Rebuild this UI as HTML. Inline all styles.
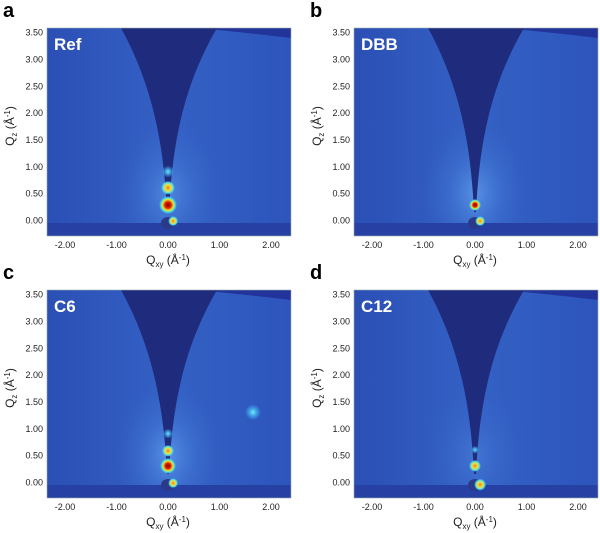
<!DOCTYPE html>
<html><head><meta charset="utf-8">
<style>
html,body{margin:0;padding:0;background:#fff;}
svg{display:block;font-family:"Liberation Sans",sans-serif;}
</style></head>
<body>
<svg id="fig" width="600" height="533" viewBox="0 0 600 533" xmlns="http://www.w3.org/2000/svg">
<defs>
  <radialGradient id="glow" cx="0.5" cy="0.5" r="0.5">
    <stop offset="0" stop-color="#6fb0f8" stop-opacity="0.6"/>
    <stop offset="0.5" stop-color="#5090e8" stop-opacity="0.25"/>
    <stop offset="1" stop-color="#3b6fd0" stop-opacity="0"/>
  </radialGradient>
  <linearGradient id="bg" x1="0" y1="0" x2="1" y2="0">
    <stop offset="0" stop-color="#2b4fb5"/>
    <stop offset="0.5" stop-color="#3461c5"/>
    <stop offset="1" stop-color="#2d55bb"/>
  </linearGradient>
  <radialGradient id="hot" cx="0.5" cy="0.5" r="0.5">
    <stop offset="0" stop-color="#8a0000"/>
    <stop offset="0.35" stop-color="#e02000"/>
    <stop offset="0.6" stop-color="#f0e030"/>
    <stop offset="0.8" stop-color="#40e0e0"/>
    <stop offset="1" stop-color="#40c0ff" stop-opacity="0"/>
  </radialGradient>
  <radialGradient id="warm" cx="0.5" cy="0.5" r="0.5">
    <stop offset="0" stop-color="#f08020"/>
    <stop offset="0.45" stop-color="#f0e040"/>
    <stop offset="0.75" stop-color="#50e0e0"/>
    <stop offset="1" stop-color="#40c0ff" stop-opacity="0"/>
  </radialGradient>
  <radialGradient id="cool" cx="0.5" cy="0.5" r="0.5">
    <stop offset="0" stop-color="#70f0ff"/>
    <stop offset="0.6" stop-color="#40b0f0" stop-opacity="0.6"/>
    <stop offset="1" stop-color="#40a0ff" stop-opacity="0"/>
  </radialGradient>
</defs>
</svg>
<script>
// ---- data ----
const panelLetters = ['a','b','c','d'];
const panelTitles = ['Ref','DBB','C6','C12'];
const xTicks = [-2, -1, 0, 1, 2];
const xTickLabels = ['-2.00','-1.00','0.00','1.00','2.00'];
const yTicks = [0, 0.5, 1, 1.5, 2, 2.5, 3, 3.5];
const yTickLabels = ['0.00','0.50','1.00','1.50','2.00','2.50','3.00','3.50'];
// peaks per panel
const peaksQxy = [[0,0,0,0.1],[0,0.1],[0,0,0,1.65,0.1],[0,0,0.1]];
const peaksQz  = [[0.28,0.6,0.9,-0.02],[0.28,-0.02],[0.3,0.58,0.9,1.3,-0.02],[0.3,0.6,-0.05]];
const peaksType= [['hot','warm','cool','warm'],['hot','warm'],['hot','warm','cool','cool','warm'],['warm','cool','warm']];
const peaksSize= [[9,7,6,5],[6,5],[8,6,5,8,5],[6,4,6]];
const glowStrength = [0.8, 1.0, 1.0, 0.4];

const svg = document.getElementById('fig');
const NS = 'http://www.w3.org/2000/svg';
const defs = svg.querySelector('defs');
function mk(tag, attrs, parent){const e=document.createElementNS(NS,tag);for(const k in attrs)e.setAttribute(k,attrs[k]);(parent||svg).appendChild(e);return e;}

const offsets = [[0,0],[307,0],[0,262],[307,262]];
panelLetters.forEach((L,i)=>{
  const ox=offsets[i][0], oy=offsets[i][1];
  const xS = q => ox+168+q*51.5;
  const yS = q => oy+220-q*53.7;
  const x0=ox+47, x1=ox+291, y0=oy+28, y1=oy+236;
  const cp = mk('clipPath',{id:'clip'+i},defs);
  mk('rect',{x:x0,y:y0,width:x1-x0,height:y1-y0},cp);
  const g = mk('g',{});
  
  
  const img = mk('g',{'clip-path':'url(#clip'+i+')'},g);
  
  
  mk('rect',{x:x0,y:y0,width:x1-x0,height:y1-y0,fill:'url(#bg)'},img);
  const gl = mk('ellipse',{cx:xS(0),cy:yS(0.5),rx:55,ry:75,fill:'url(#glow)',opacity:glowStrength[i]},img);
  
  
  // top-right dark arc
  const arc = mk('path',{d:`M${x1-95},${y0} Q${x1-40},${y0+5} ${x1},${y0+10} L${x1},${y0} Z`,fill:'#22339a'},img);
  
  
  const cx=xS(0);
  const w = mk('path',{d:`M${cx-47},${y0} C${cx-14},${y0+60} ${cx-4},${y0+120} ${cx-1},${yS(0.15)} L${cx+1},${yS(0.15)} C${cx+4},${y0+120} ${cx+14},${y0+60} ${cx+49},${y0} Z`,fill:'#1f2b7c'},img);
  
  
  const band = mk('rect',{x:x0,y:yS(0)+3,width:x1-x0,height:y1-yS(0)-3,fill:'#2640a4'},img);
  
  
  const bs = mk('ellipse',{cx:cx,cy:yS(0)+3,rx:7,ry:6,fill:'#2a3a88'},img);
  
  
  peaksQxy[i].forEach((qx,j)=>{
    const p = mk('circle',{cx:xS(qx),cy:yS(peaksQz[i][j]),r:peaksSize[i][j],fill:'url(#'+peaksType[i][j]+')'},img);
    
    
  });
  mk('rect',{x:x0,y:y0,width:x1-x0,height:y1-y0,fill:'none',stroke:'#9aa',"stroke-width":0.6},g);
  yTicks.forEach((v,k)=>{
    const t = mk('text',{x:ox+43,y:yS(v)+3.5,"font-size":9,"text-anchor":"end",fill:'#222'},g);
    t.textContent = yTickLabels[k];
    
    
  });
  xTicks.forEach((v,k)=>{
    const t = mk('text',{x:xS(v),y:oy+248,"font-size":9,"text-anchor":"middle",fill:'#222'},g);
    t.textContent = xTickLabels[k];
    
    
  });
  const xt = mk('text',{x:xS(0),y:oy+264,"font-size":12,"text-anchor":"middle",fill:'#222'},g);
  xt.innerHTML = 'Q<tspan font-size="8" dy="3">xy</tspan><tspan dy="-3"> (Å</tspan><tspan font-size="8" dy="-4">-1</tspan><tspan dy="4">)</tspan>';
  
  
  const yt = mk('text',{x:0,y:0,"font-size":12,"text-anchor":"middle",fill:'#222',transform:`translate(${ox+14},${yS(1.75)}) rotate(-90)`},g);
  yt.innerHTML = 'Q<tspan font-size="8" dy="3">z</tspan><tspan dy="-3"> (Å</tspan><tspan font-size="8" dy="-4">-1</tspan><tspan dy="4">)</tspan>';
  
  
  const tt = mk('text',{x:x0+7,y:y0+22,"font-size":17,"font-weight":"bold",fill:'#fff'},g);
  tt.textContent = panelTitles[i];
  
  
  const lt = mk('text',{x:ox+3,y:oy+17,"font-size":20,"font-weight":"bold",fill:'#000'},g);
  lt.textContent = L;
  
  
});
</script>
</body></html>
